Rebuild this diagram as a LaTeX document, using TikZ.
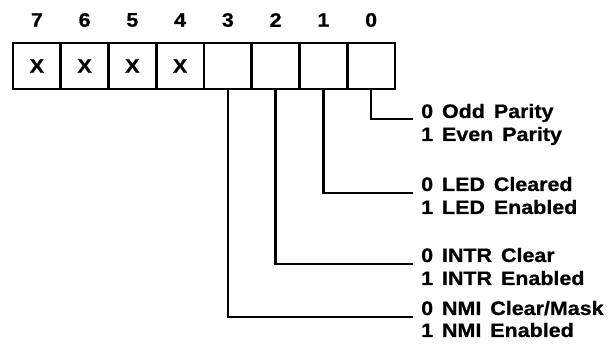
\documentclass[tikz,border=0pt]{standalone}
\usepackage{fontspec}
\newfontfamily\lblfont{Liberation Sans}[FakeStretch=1.1,FakeBold=0.7,WordSpace=1.5]
\usetikzlibrary{calc}
\begin{document}
\begin{tikzpicture}[x=1pt,y=-1pt,
  txt/.style={font=\lblfont\bfseries\fontsize{19.5}{22}\selectfont},
  cell/.style={txt,draw,line width=2.8pt,minimum width=47.75pt,minimum height=46pt,inner sep=0pt},
  bitnum/.style={txt,inner sep=0pt},
  desc/.style={txt,anchor=base west,inner xsep=8pt,inner ysep=0pt},
  wire/.style={line width=2.6pt}]
\fill[white] (0,0) rectangle (611,358);
\useasboundingbox (0,0) rectangle (611,358);
% register cells and bit numbers
\foreach \b/\t in {7/X,6/X,5/X,4/X,3/,2/,1/,0/}{
  \node[cell] (c\b) at ({13+47.75*(7-\b)+23.875},66) {\t};
  \node[bitnum] (n\b) at ({13+47.75*(7-\b)+23.875},20) {\b};
}
% descriptions
\node[desc] (d0a) at (413,118) {0 Odd Parity};
\node[desc] (d0b) at (413,141) {1 Even Parity};
\node[desc] (d1a) at (413,191) {0 LED Cleared};
\node[desc] (d1b) at (413,214) {1 LED Enabled};
\node[desc] (d2a) at (413,262) {0 INTR Clear};
\node[desc] (d2b) at (413,285) {1 INTR Enabled};
\node[desc] (d3a) at (413,315) {0 NMI Clear/Mask};
\node[desc] (d3b) at (413,337) {1 NMI Enabled};
% connectors
\draw[wire] (c0.south) |- ([yshift=-1pt]d0a.base west);
\draw[wire] (c1.south) |- ([yshift=-2pt]d1a.base west);
\draw[wire] (c2.south) |- ([yshift=-2pt]d2a.base west);
\draw[wire] (c3.south) |- ([yshift=-2pt]d3a.base west);
\end{tikzpicture}
\end{document}
